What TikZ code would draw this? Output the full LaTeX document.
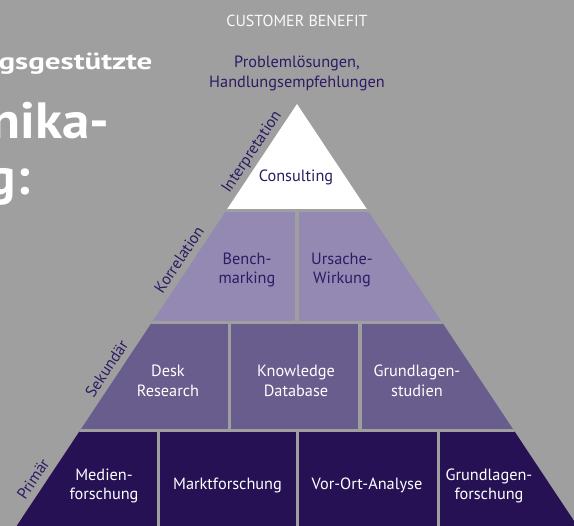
\documentclass[tikz,border=0pt]{standalone}
\usepackage{fontspec}
\setmainfont{PT Sans}
\usepackage{tikz}
\usetikzlibrary{calc}
\definecolor{bggray}{RGB}{159,159,159}
\definecolor{tiertwo}{RGB}{147,137,178}
\definecolor{tierthree}{RGB}{105,93,141}
\definecolor{tierfour}{RGB}{38,17,84}
\definecolor{inkpurple}{RGB}{46,27,100}

\begin{document}
\begin{tikzpicture}[x=1pt, y=-1pt,
      every node/.style={font=\fontsize{16.3}{19.8}\selectfont, inner sep=0pt},
      cell/.style={align=center, text=white},
      celldark/.style={align=center, text=inkpurple},
      side/.style={font=\fontsize{16}{18}\selectfont, text=inkpurple, rotate=56.4, anchor=base},
      headline/.style={font=\fontsize{#1}{#1}\selectfont\bfseries, text=white, anchor=base east},
      gap/.style={draw=bggray, line width=3.3pt}
    ]
      \useasboundingbox (0,0) rectangle (574,526);
      \clip (0,0) rectangle (574,526);
      \fill[bggray] (0,0) rectangle (574,526);

      % headline, running off the left edge
      \node[headline=23, xscale=1.35] (hl1) at (152.7,69.3) {gsgestützte};
      \node[headline=51, xscale=1.08] (hl2) at (110,138.3) {nika-};
      \node[headline=51] (hl3) at (30,195) {g:};

      \node[text=white!95!bggray, font=\fontsize{16}{19}\selectfont, anchor=base] (benefit) at (297,26.7) {CUSTOMER BENEFIT};
      \node[celldark] (goal) at (297,73.5) {Problemlösungen,\\Handlungsempfehlungen};

      % pyramid
      \coordinate (apex) at (297,104);
      \coordinate (bl) at (7.3,540);
      \coordinate (br) at (586.7,540);
      \begin{scope}
        \clip (apex) -- (bl) -- (br) -- cycle;
        \fill[white] (0,100) rectangle (574,210.5);
        \fill[tiertwo] (0,210.5) rectangle (574,322.4);
        \fill[tierthree] (0,322.4) rectangle (574,430.7);
        \fill[tierfour] (0,430.7) rectangle (574,540);
        % gaps between tiers and blocks
        \foreach \y in {210.5,322.4,430.7}
          \draw[gap] (0,\y) -- (574,\y);
        \draw[gap] (297,210.5) -- (297,322.4);
        \foreach \x in {229.3,360}
          \draw[gap] (\x,322.4) -- (\x,430.7);
        \foreach \x in {158.7,297.3,438.7}
          \draw[gap] (\x,430.7) -- (\x,540);
      \end{scope}

      % Tier 1: Interpretation
      \node[celldark, anchor=base] (consult) at (296,181.7) {Consulting};
      % Tier 2: Korrelation
      \node[celldark] (bench) at (247,270) {Bench-\\marking};
      \node[celldark] (cause) at (342,270) {Ursache-\\Wirkung};
      % Tier 3: Sekundär
      \node[cell] (desk) at (168,381) {Desk\\Research};
      \node[cell] (know) at (296,381) {Knowledge\\Database};
      \node[cell] (basic) at (417,381) {Grundlagen-\\studien};
      % Tier 4: Primär
      \node[cell] (media) at (104,486) {Medien-\\forschung};
      \node[cell, anchor=base] (market) at (227.5,489.3) {Marktforschung};
      \node[cell, anchor=base] (onsite) at (367,489.3) {Vor-Ort-Analyse};
      \node[cell] (research) at (489,486) {Grundlagen-\\forschung};

      % labels along the left edge
      \node[side] (l1) at ($(apex)!0.124!(bl) + (-5.5,-3.6)$) {Interpretation};
      \node[side] (l2) at ($(apex)!0.372!(bl) + (-5.5,-3.6)$) {Korrelation};
      \node[side] (l3) at ($(apex)!0.622!(bl) + (-5.5,-3.6)$) {Sekundär};
      \node[side] (l4) at ($(apex)!0.876!(bl) + (-5.5,-3.6)$) {Primär};
    \end{tikzpicture}
\end{document}
